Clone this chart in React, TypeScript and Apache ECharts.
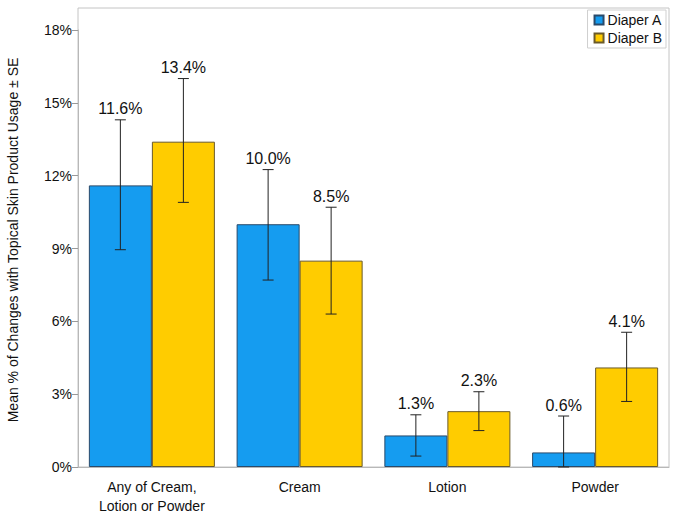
import React, { useEffect, useRef } from "react";
import * as echarts from "echarts";

const categories = ["Any of Cream,\nLotion or Powder", "Cream", "Lotion", "Powder"];
const seriesNames = ["Diaper A", "Diaper B"];
const diaperA = [11.6, 10.0, 1.3, 0.6];
const diaperB = [13.4, 8.5, 2.3, 4.1];
const errLowA = [8.95, 7.7, 0.45, 0.0];
const errHighA = [14.3, 12.25, 2.15, 2.1];
const errLowB = [10.9, 6.3, 1.5, 2.7];
const errHighB = [16.0, 10.7, 3.1, 5.55];
const yTicks = { min: 0, max: 18, interval: 3 };

const GAP = 0.147;

function makeErrSeries(name: string, vals: number[], lows: number[], highs: number[], side: number) {
  const data = vals.map((v, i) => [i, lows[i], highs[i], v]);
  return {
    type: "custom",
    name: name + " SE",
    z: 10,
    data,
    renderItem: (params: any, api: any) => {
      const idx = api.value(0);
      const lo = api.value(1);
      const hi = api.value(2);
      const v = api.value(3);
      const band = api.size([1, 0])[0];
      const barW = (band * (1 - GAP)) / 2;
      const cx = api.coord([idx, 0])[0] + (side * barW) / 2;
      const yLo = api.coord([idx, lo])[1];
      const yHi = api.coord([idx, hi])[1];
      const cap = 5.5;
      const lineStyle = { stroke: "#222", lineWidth: 1 };
      return {
        type: "group",
        children: [
          { type: "line", shape: { x1: cx, y1: yLo, x2: cx, y2: yHi }, style: lineStyle },
          { type: "line", shape: { x1: cx - cap, y1: yHi, x2: cx + cap, y2: yHi }, style: lineStyle },
          { type: "line", shape: { x1: cx - cap, y1: yLo, x2: cx + cap, y2: yLo }, style: lineStyle },
          {
            type: "text",
            x: cx,
            y: yHi - 3,
            style: {
              text: v.toFixed(1) + "%",
              fill: "#111",
              font: "16px 'Liberation Sans', Arial, sans-serif",
              align: "center",
              verticalAlign: "bottom",
            },
          },
        ],
      };
    },
  };
}

export default function App() {
  const ref = useRef<HTMLDivElement>(null);
  useEffect(() => {
    if (!ref.current) return;
    const chart = echarts.init(ref.current, null, { renderer: "svg" });
    const font = "'Liberation Sans', Arial, sans-serif";
    chart.setOption({
      animation: false,
      backgroundColor: "#fff",
      textStyle: { fontFamily: font },
      grid: {
        left: 78,
        top: 30,
        right: 8,
        bottom: 51,
        show: false,
      },
      legend: {
        data: seriesNames,
        orient: "vertical",
        right: 11,
        top: 10,
        borderColor: "#cfcfcf",
        borderWidth: 1,
        padding: [3, 4, 3, 6],
        itemGap: 4,
        itemWidth: 9,
        itemHeight: 9,
        icon: "rect",
        textStyle: { fontSize: 14, color: "#111", fontFamily: font, padding: [0, 0, 0, -1] },
      },
      graphic: [
        {
          type: "rect",
          z: -1,
          shape: { x: 78, y: 8, width: 591, height: 459 },
          style: { fill: "none", stroke: "#c4c4c4", lineWidth: 1 },
          silent: true,
        },
        {
          type: "text",
          x: 13,
          y: 240,
          rotation: Math.PI / 2,
          style: {
            text: "Mean % of Changes with Topical Skin Product Usage ± SE",
            fill: "#111",
            font: "14px " + font,
            align: "center",
            verticalAlign: "middle",
          },
        },
      ],
      xAxis: {
        type: "category",
        data: categories,
        axisLine: { lineStyle: { color: "#b8b8b8" } },
        axisTick: { alignWithLabel: true, length: 6, lineStyle: { color: "#999" } },
        axisLabel: { color: "#111", fontSize: 14, margin: 10, lineHeight: 19, fontFamily: font },
      },
      yAxis: {
        type: "value",
        min: yTicks.min,
        max: yTicks.max,
        interval: yTicks.interval,
        splitLine: { show: false },
        axisLine: { show: true, lineStyle: { color: "#b8b8b8" } },
        axisTick: { show: true, length: 6, lineStyle: { color: "#999" } },
        axisLabel: { color: "#111", fontSize: 14, margin: 6, formatter: "{value}%", fontFamily: font },
      },
      series: [
        {
          type: "bar",
          name: seriesNames[0],
          data: diaperA,
          barGap: "0%",
          barCategoryGap: (GAP * 100).toFixed(1) + "%",
          itemStyle: { color: "#159CF0", borderColor: "#2a4a6a", borderWidth: 1 },
        },
        {
          type: "bar",
          name: seriesNames[1],
          data: diaperB,
          barGap: "0%",
          barCategoryGap: (GAP * 100).toFixed(1) + "%",
          itemStyle: { color: "#FFCC00", borderColor: "#6a5a2a", borderWidth: 1 },
        },
        makeErrSeries(seriesNames[0], diaperA, errLowA, errHighA, -1),
        makeErrSeries(seriesNames[1], diaperB, errLowB, errHighB, 1),
      ],
    });
    return () => chart.dispose();
  }, []);
  return (
    <div
      ref={ref}
      style={{ position: "fixed", left: 0, top: 0, width: 677, height: 518 }}
    />
  );
}
